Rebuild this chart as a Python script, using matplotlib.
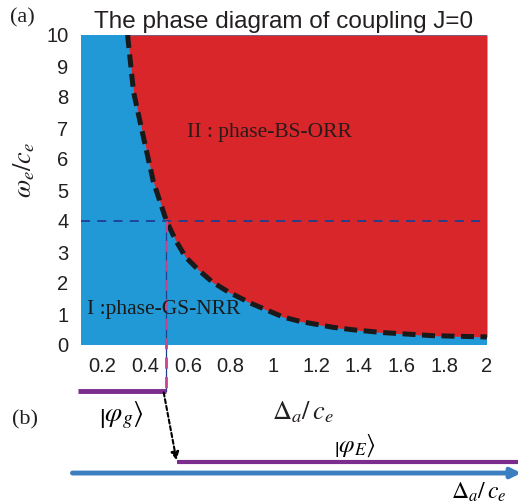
import matplotlib
matplotlib.use("Agg")
import matplotlib.pyplot as plt

# ==== DATA ====
# phase boundary
boundary_x = [0.318, 0.346, 0.393, 0.439, 0.5, 0.542, 0.589, 0.65, 0.715, 0.79, 0.9,
              1.047, 1.126, 1.28, 1.374, 1.514, 1.748, 2.0]
boundary_y = [10, 8.16, 6.68, 5.26, 4.0, 3.39, 2.84, 2.42, 2.03, 1.71, 1.33,
              0.9, 0.76, 0.57, 0.49, 0.4, 0.3, 0.26]

x_ticks = [0.2, 0.4, 0.6, 0.8, 1, 1.2, 1.4, 1.6, 1.8, 2]
x_tick_labels = ["0.2", "0.4", "0.6", "0.8", "1", "1.2", "1.4", "1.6", "1.8", "2"]
y_ticks = [0, 1, 2, 3, 4, 5, 6, 7, 8, 9, 10]

cut_y = 4.0          # horizontal cut through the diagram
transition_x = 0.5   # where the cut meets the boundary

# ==== STYLE ====
BLUE = "#2199d6"
RED = "#d8262a"
PURPLE = "#7b2c8c"
PINK = "#c9468f"
NAVY = "#1f3f93"
ARROW_BLUE = "#3b7fc0"

plt.rcParams["font.family"] = ["Liberation Sans", "DejaVu Sans"]
plt.rcParams["mathtext.fontset"] = "stix"

fig = plt.figure(figsize=(5.18, 5.04), dpi=100)
ax = fig.add_axes([81 / 518, 1 - 345 / 504, 406 / 518, 310 / 504])

ax.set_facecolor(BLUE)
ax.fill_between(boundary_x, boundary_y, 10, color=RED, lw=0)
ax.plot(boundary_x, boundary_y, color="#1a1a1a", lw=3.6, ls=(0, (2.6, 1.3)))

ax.axhline(cut_y, color=NAVY, lw=1.3, ls=(0, (5, 4)))

ax.set_xlim(0.1, 2.0)
ax.set_ylim(0, 10)
ax.set_xticks(x_ticks)
ax.set_xticklabels(x_tick_labels)
ax.set_yticks(y_ticks)
ax.tick_params(length=0, labelsize=14.5, pad=9, colors="#231f20")
for s in ax.spines.values():
    s.set_visible(False)

ax.set_title("The phase diagram of coupling J=0", fontsize=17.5, color="#231f20", pad=5)

ax.set_ylabel(r"$\omega_e/\mathit{c_e}$", fontsize=19, color="#231f20")
ax.yaxis.set_label_coords(-0.108, 0.565)
ax.set_xlabel(r"$\Delta_a/\,\mathit{c_e}$", fontsize=19, color="#231f20")
ax.xaxis.set_label_coords(0.547, -0.175)

serif = "Liberation Serif"
ax.text(0.598, 6.84, "II : phase-BS-ORR", family=serif, fontsize=15.5, color="#2a1a1a",
        ha="left", va="center")
ax.text(0.13, 1.13, "I :phase-GS-NRR", family=serif, fontsize=15.5, color="#1a1a1a",
        ha="left", va="center")

# ==== panel (b): schematic below the axes ====
lvl_g = -1.48
lvl_e = -3.77
axis_y = -4.13

# vertical cut down from the crossing point
ax.plot([transition_x, transition_x], [cut_y, lvl_g], color=NAVY, lw=0.9, clip_on=False)
ax.plot([transition_x, transition_x], [cut_y, lvl_g], color=PINK, lw=2, ls=(0, (4, 3)), clip_on=False)

ax.plot([0.088, transition_x], [lvl_g, lvl_g], color=PURPLE, lw=3.5, clip_on=False, solid_capstyle="butt")
ax.plot([0.547, 2.15], [lvl_e, lvl_e], color=PURPLE, lw=3, clip_on=False, solid_capstyle="butt")

ax.annotate("", xy=(0.547, lvl_e + 0.05), xytext=(0.487, lvl_g - 0.05),
            arrowprops=dict(arrowstyle="-|>", color="black", lw=1.5, ls=(0, (2, 1.3)),
                            mutation_scale=12, shrinkA=0, shrinkB=0),
            annotation_clip=False)
ax.annotate("", xy=(2.16, axis_y), xytext=(0.06, axis_y),
            arrowprops=dict(arrowstyle="-|>", color=ARROW_BLUE, lw=3.5,
                            mutation_scale=14, shrinkA=0, shrinkB=0),
            annotation_clip=False)

ax.text(0.29, -2.25, r"$\left|\varphi_g\right\rangle$", fontsize=20, ha="center", va="center")
ax.text(1.38, -3.25, r"$\left|\varphi_E\right\rangle$", fontsize=18, ha="center", va="center")
ax.text(1.96, -4.75, r"$\Delta_a/\,\mathit{c_e}$", fontsize=17, ha="center", va="center")

fig.text(22 / 518, 1 - 18 / 504, "(a)", family="Liberation Serif", fontsize=16,
         ha="center", va="center", color="#231f20")
fig.text(25 / 518, 1 - 420 / 504, "(b)", family="Liberation Serif", fontsize=16,
         ha="center", va="center", color="#231f20")

fig.savefig("out.png", dpi=100)
